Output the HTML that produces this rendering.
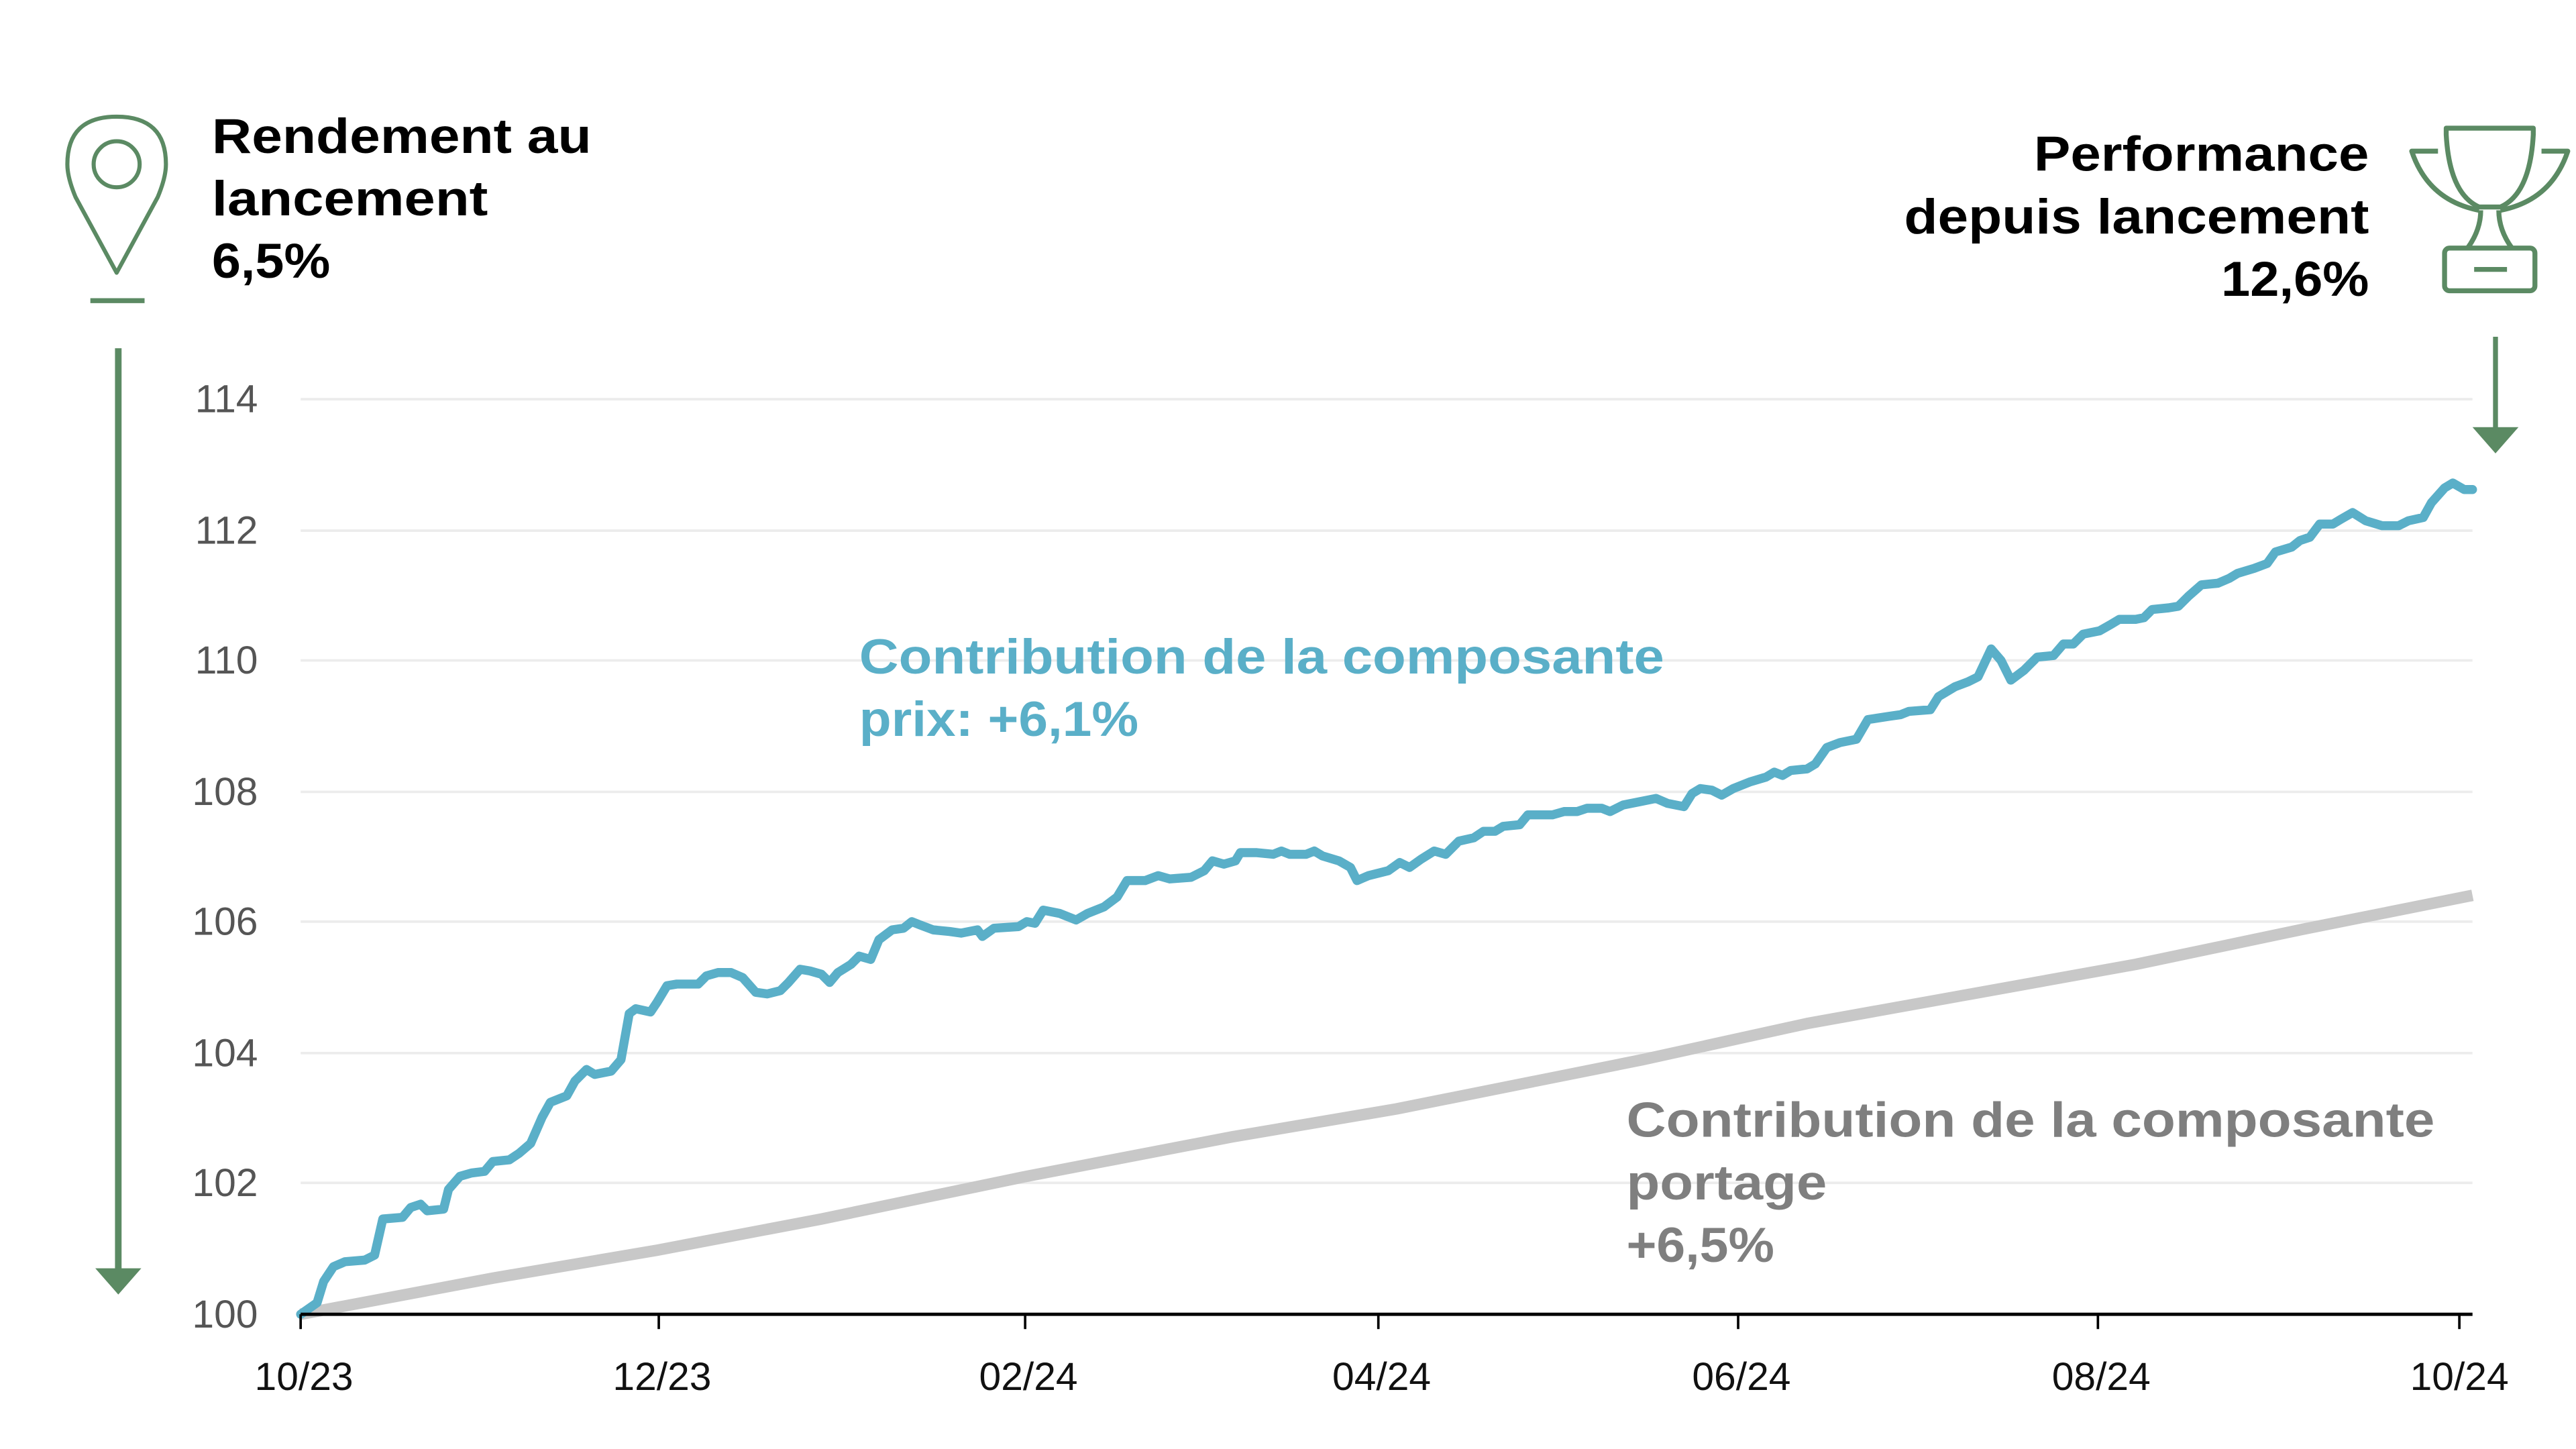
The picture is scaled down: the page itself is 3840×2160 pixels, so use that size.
<!DOCTYPE html>
<html><head><meta charset="utf-8"><style>html,body{margin:0;padding:0;background:#fff;}svg{display:block;}</style></head>
<body>
<svg width="3840" height="2160" viewBox="0 0 1568 882" xmlns="http://www.w3.org/2000/svg" font-family="Liberation Sans, sans-serif">
<rect width="1568" height="882" fill="#fff"/>
<g stroke="#ececec" stroke-width="1.5">
<line x1="183" y1="243" x2="1505" y2="243"/><line x1="183" y1="323" x2="1505" y2="323"/>
<line x1="183" y1="402" x2="1505" y2="402"/><line x1="183" y1="482" x2="1505" y2="482"/>
<line x1="183" y1="561" x2="1505" y2="561"/><line x1="183" y1="641" x2="1505" y2="641"/>
<line x1="183" y1="720" x2="1505" y2="720"/>
</g>
<g fill="#555" font-size="24" text-anchor="end">
<text x="157" y="251">114</text><text x="157" y="331">112</text><text x="157" y="410">110</text>
<text x="157" y="490">108</text><text x="157" y="569">106</text><text x="157" y="649">104</text>
<text x="157" y="728">102</text><text x="157" y="808">100</text>
</g>
<g fill="#111" font-size="24" text-anchor="middle">
<text x="185" y="846">10/23</text><text x="403" y="846">12/23</text><text x="626" y="846">02/24</text>
<text x="841" y="846">04/24</text><text x="1060" y="846">06/24</text><text x="1279" y="846">08/24</text>
<text x="1497" y="846">10/24</text>
</g>
<polyline fill="none" stroke="#c8c8c8" stroke-width="7" stroke-linejoin="round" points="183,800 300,778 400,761 500,742 625,716 750,692 850,675 1000,645 1100,623 1200,605 1300,587 1400,566 1505,545"/>
<polyline fill="none" stroke="#5aafc8" stroke-width="5.5" stroke-linejoin="round" stroke-linecap="round" points="183,800 193,793 197,780 203,771 210,768 222,767 228,764 233,742 245,741 250,735 256,733 260,737 270,736 273,724 280,716 287,714 295,713 300,707 310,706 316,702 323,696 330,680 335,671 345,667 350,658 357,651 362,654 372,652 378,645 383,617 387,614 396,616 400,610 406,600 412,599 425,599 430,594 437,592 445,592 452,595 460,604 467,605 475,603 480,598 487,590 493,591 500,593 505,598 510,592 518,587 523,582 530,584 535,572 543,566 550,565 555,561 560,563 568,566 578,567 585,568 595,566 598,570 605,565 620,564 625,561 630,562 635,554 645,556 655,560 662,556 672,552 680,546 686,536 697,536 705,533 712,535 725,534 733,530 738,524 745,526 752,524 755,519 765,519 775,520 780,518 785,520 795,520 800,518 805,521 815,524 822,528 826,536 833,533 845,530 852,525 858,528 865,523 873,518 880,520 888,512 897,510 903,506 910,506 915,503 925,502 930,496 937,496 945,496 952,494 960,494 966,492 975,492 980,494 988,490 998,488 1008,486 1015,489 1025,491 1030,483 1035,480 1042,481 1048,484 1055,480 1065,476 1075,473 1080,470 1085,472 1090,469 1100,468 1105,465 1112,455 1120,452 1130,450 1137,438 1150,436 1157,435 1162,433 1175,432 1180,424 1190,418 1198,415 1204,412 1212,395 1218,402 1224,414 1232,408 1240,400 1250,399 1256,392 1262,392 1268,386 1278,384 1285,380 1290,377 1300,377 1305,376 1310,371 1320,370 1326,369 1332,363 1340,356 1350,355 1357,352 1362,349 1372,346 1380,343 1385,336 1395,333 1400,329 1406,327 1412,319 1420,319 1425,316 1432,312 1440,317 1450,320 1460,320 1466,317 1475,315 1480,306 1488,297 1493,294 1500,298 1505,298"/>
<line x1="183" y1="800" x2="1505" y2="800" stroke="#000" stroke-width="2"/>
<g stroke="#000" stroke-width="1.5">
<line x1="183" y1="800" x2="183" y2="809"/><line x1="401" y1="800" x2="401" y2="809"/><line x1="624" y1="800" x2="624" y2="809"/>
<line x1="839" y1="800" x2="839" y2="809"/><line x1="1058" y1="800" x2="1058" y2="809"/><line x1="1277" y1="800" x2="1277" y2="809"/>
<line x1="1497" y1="800" x2="1497" y2="809"/>
</g>
<g font-weight="bold" font-size="30" fill="#5aafc8">
<text x="523" y="410" textLength="490" lengthAdjust="spacingAndGlyphs">Contribution de la composante</text>
<text x="523" y="448" textLength="170" lengthAdjust="spacingAndGlyphs">prix: +6,1%</text>
</g>
<g font-weight="bold" font-size="30" fill="#7f7f7f">
<text x="990" y="692" textLength="492" lengthAdjust="spacingAndGlyphs">Contribution de la composante</text>
<text x="990" y="730" textLength="122" lengthAdjust="spacingAndGlyphs">portage</text>
<text x="990" y="768" textLength="90" lengthAdjust="spacingAndGlyphs">+6,5%</text>
</g>
<g font-weight="bold" font-size="30" fill="#000">
<text x="129" y="93" textLength="231" lengthAdjust="spacingAndGlyphs">Rendement au</text>
<text x="129" y="131" textLength="168" lengthAdjust="spacingAndGlyphs">lancement</text>
<text x="129" y="169" textLength="72" lengthAdjust="spacingAndGlyphs">6,5%</text>
<text x="1238" y="104" textLength="204" lengthAdjust="spacingAndGlyphs">Performance</text>
<text x="1159" y="142" textLength="283" lengthAdjust="spacingAndGlyphs">depuis lancement</text>
<text x="1352" y="180" textLength="90" lengthAdjust="spacingAndGlyphs">12,6%</text>
</g>
<g stroke="#5b8a63" stroke-width="2.5" fill="none" stroke-linejoin="round">
<path d="M71,166 L46,120 Q41,108 41,100 Q41,71 71,71 Q101,71 101,100 Q101,108 96,120 Z"/>
<circle cx="71" cy="100" r="14"/>
</g>
<g stroke="#5b8a63" stroke-width="3" fill="#5b8a63">
<line x1="55" y1="183" x2="88" y2="183"/>
<line x1="72" y1="212" x2="72" y2="775" stroke-width="4"/>
</g>
<polygon points="58,772 86,772 72,788" fill="#5b8a63"/>
<g stroke="#5b8a63" stroke-width="3" fill="none" stroke-linejoin="round">
<path d="M1489,78 L1542,78 L1542,82 Q1540,118 1522,126 L1509,126 Q1491,118 1489,82 Z"/>
<path d="M1484,92 L1468,92 Q1478,122 1509,128"/>
<path d="M1547,92 L1563,92 Q1553,122 1522,128"/>
<path d="M1510,128 Q1510,140 1502,151 M1521,128 Q1521,140 1529,151"/>
<rect x="1488" y="151" width="55" height="26" rx="3"/>
<line x1="1506" y1="164" x2="1526" y2="164"/>
</g>
<line x1="1519" y1="205" x2="1519" y2="262" stroke="#5b8a63" stroke-width="3"/>
<polygon points="1505,260 1533,260 1519,276" fill="#5b8a63"/>
</svg>
</body></html>
